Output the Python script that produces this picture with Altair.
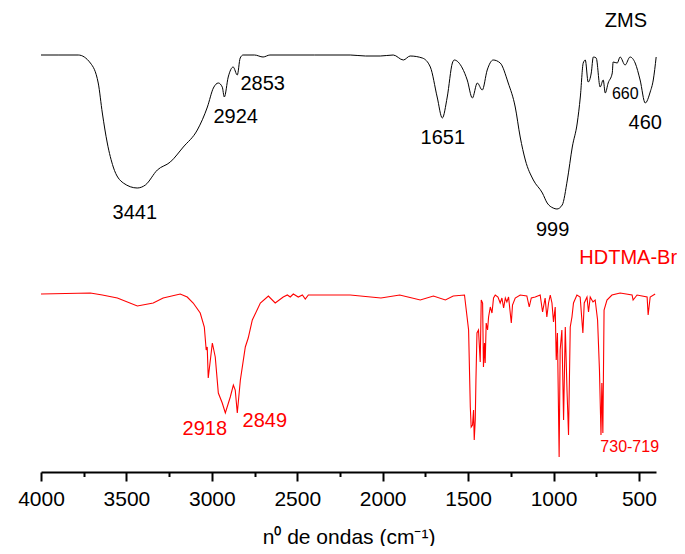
import altair as alt
import pandas as pd

# ---------------- data (wavenumber, transmittance a.u.) -------------
zms_wn = [4000, 3900, 3782, 3711, 3665, 3641, 3612, 3577, 3518, 3437, 3389, 3319, 3243, 3167,
          3085, 3026, 2991, 2962, 2939, 2927, 2904, 2875, 2851, 2834, 2817, 2750, 2700, 2660,
          2400, 2190, 2100, 2014, 1938, 1879, 1839, 1768, 1721, 1681, 1651, 1622, 1592, 1581,
          1534, 1505, 1475, 1446, 1417, 1388, 1353, 1312, 1265, 1224, 1195, 1165, 1118, 1065,
          1037, 1002, 980, 949, 919, 890, 861, 843, 826, 814, 797, 779, 767, 750, 727, 709,
          697, 680, 656, 651, 627, 610, 581, 552, 522, 493, 463, 434, 416, 399]
zms_t = [417, 417, 417, 409, 389, 359, 329, 305, 289, 284, 287, 302, 310, 325,
         342, 365, 384, 389, 385, 375, 395, 405, 397, 414, 417, 417, 415, 417,
         417, 417, 416, 416, 417, 412, 416, 414, 405, 375, 354, 375, 409, 412,
         404, 392, 374, 389, 382, 402, 412, 409, 389, 365, 335, 312, 292, 279,
         269, 264, 263, 267, 292, 325, 349, 375, 409, 412, 390, 399, 415, 414, 385, 392,
         379, 389, 399, 410, 409, 415, 407, 415, 409, 392, 369, 380, 392, 415]

hd_wn = [4000, 3711, 3641, 3553, 3436, 3343, 3285, 3185, 3144, 3109, 3068, 3044, 3033, 3027,
         3021, 2997, 2980, 2962, 2939, 2921, 2892, 2874, 2863, 2851, 2833, 2804, 2787, 2763,
         2716, 2669, 2629, 2582, 2558, 2541, 2523, 2494, 2470, 2453, 2435, 2190, 2010, 1900,
         1780, 1703, 1633, 1587, 1521, 1497, 1487, 1482, 1474, 1468, 1464, 1458, 1454, 1448,
         1439, 1429, 1423, 1415, 1410, 1404, 1400, 1394, 1386, 1380, 1370, 1360, 1351, 1341,
         1325, 1312, 1302, 1292, 1282, 1273, 1263, 1247, 1240, 1224, 1195, 1156, 1142, 1130,
         1107, 1078, 1064, 1049, 1039, 1029, 1019, 1009, 1000, 990, 984, 977, 967, 961, 951,
         941, 931, 921, 912, 902, 892, 883, 863, 844, 828, 820, 804, 795, 785, 769, 756, 742,
         731, 722, 717, 711, 704, 687, 658, 610, 540, 534, 511, 452, 446, 434, 405]
hd_t = [178, 179, 177, 174, 166, 169, 174, 178, 175, 169, 159, 145, 122, 125,
        94, 129, 115, 79, 69, 59, 75, 87, 82, 59, 92, 125, 134, 152,
        169, 176, 169, 175, 177, 175, 178, 175, 177, 173, 177, 177, 174, 177,
        172, 176, 172, 176, 177, 142, 65, 45, 47, 62, 32, 52, 92, 139,
        142, 110, 172, 169, 105, 129, 109, 149, 142, 155, 165, 159, 174, 177,
        175, 169, 174, 164, 174, 170, 175, 149, 167, 174, 177, 176, 165, 174,
        175, 177, 160, 174, 155, 169, 177, 169, 150, 165, 112, 139, 15, 122, 142,
        52, 145, 82, 37, 145, 155, 169, 177, 175, 139, 169, 175, 160, 175, 170, 172, 152,
        102, 37, 89, 39, 162, 172, 177, 179, 177, 172, 177, 175, 157, 175, 178]

x_major = [4000, 3500, 3000, 2500, 2000, 1500, 1000, 500]
x_minor = [3750, 3250, 2750, 2250, 1750, 1250, 750]

# peak labels
blk_text = ["3441", "2924", "2853", "1651", "999", "460", "ZMS"]
blk_wn = [3451, 2860, 2702, 1648, 1005, 463, 576]
blk_t = [259, 355.5, 388.5, 334, 242, 349, 451]

blk_small_text = ["660"]
blk_small_wn = [580]
blk_small_t = [378]

red_text = ["2918", "2849", "HDTMA-Br"]
red_wn = [3041, 2690, 563]
red_t = [43.5, 51.5, 214]

red_small_text = ["730-719"]
red_small_wn = [554]
red_small_t = [25]

# ---------------- chart ----------------
FONT = "Liberation Sans"
xscale = alt.Scale(domain=[4000, 400], nice=False, zero=False)
yscale = alt.Scale(domain=[0, 464], nice=False, zero=False)

zms_df = pd.DataFrame({"wn": zms_wn, "t": zms_t})
hd_df = pd.DataFrame({"wn": hd_wn, "t": hd_t})

major_axis = alt.Axis(values=x_major, title="n\u2070 de ondas (cm\u207b\u00b9)", orient="bottom",
                      grid=False, tickSize=9, tickWidth=2, tickColor="black",
                      domainWidth=2, domainColor="black", labelFontSize=21, labelFont=FONT,
                      labelColor="black", labelPadding=7, labelFlush=False, labelOverlap=False,
                      format="d", titleFont=FONT, titleFontSize=21, titleFontWeight="normal",
                      titleColor="black", titlePadding=17)
minor_axis = alt.Axis(values=x_minor, labels=False, domain=False, title=None, orient="bottom",
                      grid=False, tickSize=4.5, tickWidth=2, tickColor="black")

zms_line = alt.Chart(zms_df).mark_line(color="black", strokeWidth=1, interpolate="monotone").encode(
    x=alt.X("wn:Q", scale=xscale, axis=major_axis),
    y=alt.Y("t:Q", scale=yscale, axis=None),
)
hd_line = alt.Chart(hd_df).mark_line(color="#ff0000", strokeWidth=1.1).encode(
    x=alt.X("wn:Q", scale=xscale, axis=minor_axis),
    y=alt.Y("t:Q", scale=yscale, axis=None),
)


def labels(texts, wns, ts, color, size):
    df = pd.DataFrame({"label": texts, "wn": wns, "t": ts})
    return alt.Chart(df).mark_text(color=color, fontSize=size, font=FONT, align="center",
                                   baseline="middle").encode(
        x=alt.X("wn:Q", scale=xscale, axis=None),
        y=alt.Y("t:Q", scale=yscale, axis=None),
        text="label:N",
    )


chart = alt.layer(
    zms_line,
    hd_line,
    labels(blk_text, blk_wn, blk_t, "black", 20),
    labels(blk_small_text, blk_small_wn, blk_small_t, "black", 16),
    labels(red_text, red_wn, red_t, "#ff0000", 20),
    labels(red_small_text, red_small_wn, red_small_t, "#ff0000", 16),
).resolve_axis(x="independent").properties(
    width=615, height=464,
    autosize=alt.AutoSizeParams(type="none"),
    padding={"left": 33, "top": 0, "right": 21, "bottom": 74},
).configure_view(stroke=None)

chart.save("out.html", embed_options={"renderer": "svg", "actions": False})
